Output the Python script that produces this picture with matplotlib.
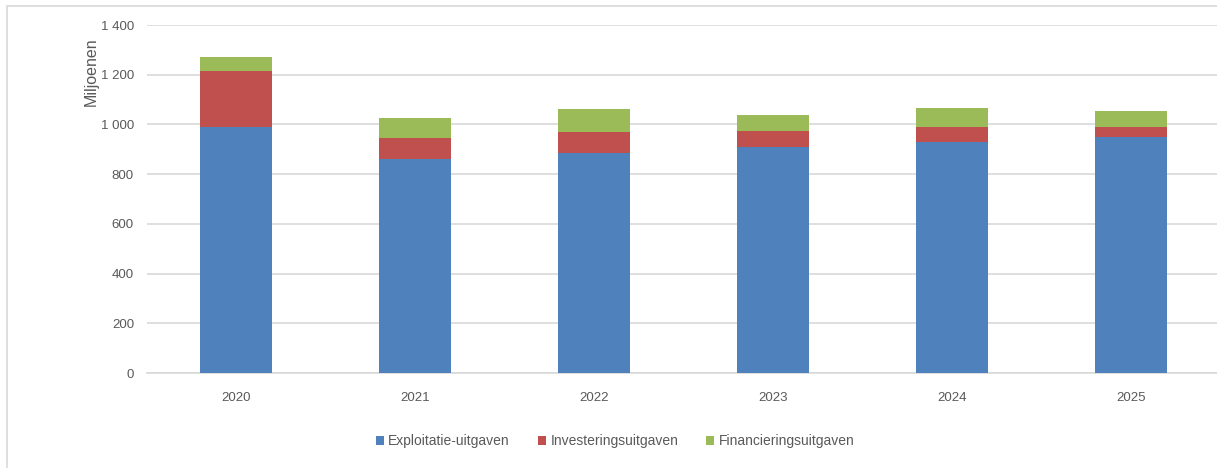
import matplotlib.pyplot as plt
import matplotlib.ticker as mticker
from matplotlib.patches import Rectangle
import numpy as np

# data (miljoenen)
years = ['2020', '2021', '2022', '2023', '2024', '2025']
exploitatie = [988, 861, 885, 909, 931, 949]
investering = [227, 84, 85, 65, 59, 41]
financiering = [56, 80, 91, 63, 75, 63]
series_names = ['Exploitatie-uitgaven', 'Investeringsuitgaven', 'Financieringsuitgaven']

colors = ['#4f81bd', '#c0504d', '#9bbb59']
text_color = '#595959'
grid_color = '#d9d9d9'

plt.rcParams['font.family'] = ['Liberation Sans', 'DejaVu Sans']

fig = plt.figure(figsize=(12.17, 4.68), dpi=100)
ax = fig.add_axes([146.5 / 1217, 95 / 468, 1074 / 1217, 348 / 468])

x = np.arange(len(years))
width = 0.4
bottom = np.zeros(len(years))
for vals, name, c in zip([exploitatie, investering, financiering], series_names, colors):
    ax.bar(x, vals, width, bottom=bottom, color=c, label=name, zorder=3)
    bottom += np.array(vals)

ax.set_xlim(-0.5, len(years) - 0.5)
ax.set_ylim(0, 1400)
ax.set_yticks(range(0, 1401, 200))
ax.yaxis.set_major_formatter(mticker.FuncFormatter(lambda v, p: f'{int(v):,}'.replace(',', ' ')))
ax.set_xticks(x)
ax.set_xticklabels(years)

ax.grid(axis='y', color=grid_color, linewidth=1.2, zorder=0)
for s in ['top', 'right', 'left']:
    ax.spines[s].set_visible(False)
ax.spines['bottom'].set_color(grid_color)
ax.spines['bottom'].set_linewidth(1.2)
ax.tick_params(axis='both', length=0, colors=text_color, labelsize=9.5)
ax.tick_params(axis='y', pad=9)
ax.tick_params(axis='x', pad=14)

fig.text(91 / 1217, 1 - 72 / 468, 'Miljoenen', rotation=90, ha='center', va='center',
         fontsize=11.5, color=text_color)

ax.legend(loc='center', bbox_to_anchor=(615 / 1217, 1 - 441 / 468),
          bbox_transform=fig.transFigure, ncol=3, frameon=False,
          handlelength=0.6, handleheight=0.6, handletextpad=0.3, columnspacing=2.0,
          fontsize=10, labelcolor=text_color)

# outer frame
fig.patches.append(Rectangle((7 / 1217, -0.1), 1.2, 1 - 6 / 468 + 0.1,
                             transform=fig.transFigure, fill=False,
                             edgecolor=grid_color, linewidth=1.2))

fig.savefig('out.png', dpi=100)
